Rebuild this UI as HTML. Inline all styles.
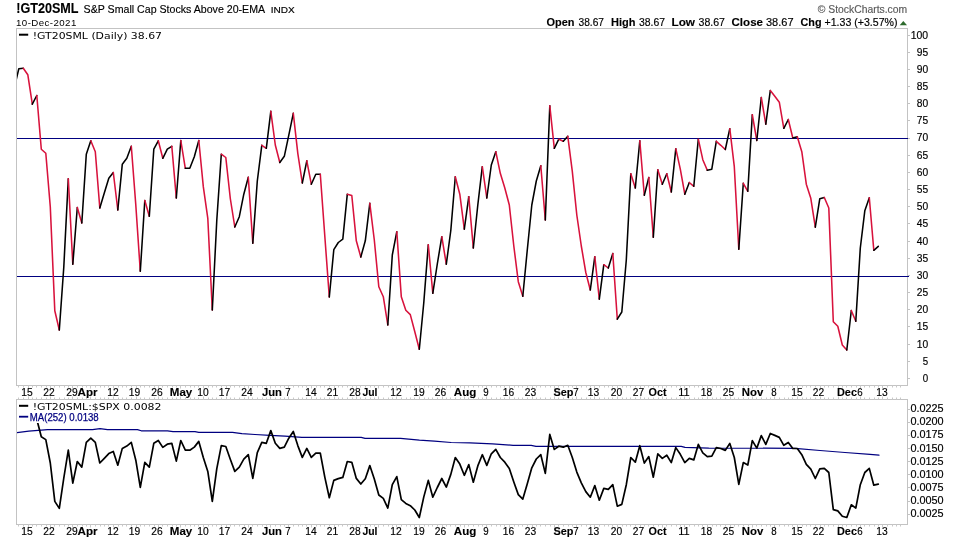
<!DOCTYPE html>
<html lang="en"><head><meta charset="utf-8"><title>!GT20SML - StockCharts</title>
<style>html,body{margin:0;padding:0;background:#fff;}svg{display:block;}text{font-family:"Liberation Sans",sans-serif;fill:#000;stroke:#000;stroke-width:.16px;}.v{font-family:"DejaVu Sans","Liberation Sans",sans-serif;stroke-width:0;}.b{font-weight:bold;stroke-width:.12px;}</style>
</head><body>
<svg width="960" height="540" viewBox="0 0 960 540">
<rect x="0" y="0" width="960" height="540" fill="#ffffff"/>
<clipPath id="c1"><rect x="17" y="29" width="891" height="356"/></clipPath>
<clipPath id="c2"><rect x="17" y="400" width="891" height="124"/></clipPath>
<rect x="16.5" y="28.5" width="891" height="357" fill="#fff" stroke="#c3c3c3" stroke-width="1"/>
<line x1="17" x2="909" y1="138.5" y2="138.5" stroke="#000080" stroke-width="1.2"/>
<line x1="17" x2="909" y1="276.5" y2="276.5" stroke="#000080" stroke-width="1.2"/>
<g clip-path="url(#c1)">
<polyline fill="none" stroke="#000000" stroke-width="1.55" stroke-linejoin="round" stroke-linecap="round" points="14.3,88.0 18.8,68.7 23.3,68.3"/>
<polyline fill="none" stroke="#d8123c" stroke-width="1.55" stroke-linejoin="round" stroke-linecap="round" points="23.3,68.3 27.8,74.7 32.3,104.2"/>
<polyline fill="none" stroke="#000000" stroke-width="1.55" stroke-linejoin="round" stroke-linecap="round" points="32.3,104.2 36.8,95.5"/>
<polyline fill="none" stroke="#d8123c" stroke-width="1.55" stroke-linejoin="round" stroke-linecap="round" points="36.8,95.5 41.3,149.2 45.8,153.3 50.3,207.0 54.8,310.8 59.3,330.0"/>
<polyline fill="none" stroke="#000000" stroke-width="1.55" stroke-linejoin="round" stroke-linecap="round" points="59.3,330.0 63.8,267.0 68.3,178.7"/>
<polyline fill="none" stroke="#d8123c" stroke-width="1.55" stroke-linejoin="round" stroke-linecap="round" points="68.3,178.7 72.8,264.2"/>
<polyline fill="none" stroke="#000000" stroke-width="1.55" stroke-linejoin="round" stroke-linecap="round" points="72.8,264.2 77.3,207.5"/>
<polyline fill="none" stroke="#d8123c" stroke-width="1.55" stroke-linejoin="round" stroke-linecap="round" points="77.3,207.5 81.8,223.0"/>
<polyline fill="none" stroke="#000000" stroke-width="1.55" stroke-linejoin="round" stroke-linecap="round" points="81.8,223.0 86.3,154.2 90.8,140.8"/>
<polyline fill="none" stroke="#d8123c" stroke-width="1.55" stroke-linejoin="round" stroke-linecap="round" points="90.8,140.8 95.3,151.7 99.8,208.0"/>
<polyline fill="none" stroke="#000000" stroke-width="1.55" stroke-linejoin="round" stroke-linecap="round" points="99.8,208.0 104.3,193.0 108.8,178.3 113.3,172.5"/>
<polyline fill="none" stroke="#d8123c" stroke-width="1.55" stroke-linejoin="round" stroke-linecap="round" points="113.3,172.5 117.8,210.0"/>
<polyline fill="none" stroke="#000000" stroke-width="1.55" stroke-linejoin="round" stroke-linecap="round" points="117.8,210.0 122.3,164.2 126.8,158.3 131.3,146.3"/>
<polyline fill="none" stroke="#d8123c" stroke-width="1.55" stroke-linejoin="round" stroke-linecap="round" points="131.3,146.3 135.8,205.0 140.3,271.3"/>
<polyline fill="none" stroke="#000000" stroke-width="1.55" stroke-linejoin="round" stroke-linecap="round" points="140.3,271.3 144.8,200.5"/>
<polyline fill="none" stroke="#d8123c" stroke-width="1.55" stroke-linejoin="round" stroke-linecap="round" points="144.8,200.5 149.3,216.2"/>
<polyline fill="none" stroke="#000000" stroke-width="1.55" stroke-linejoin="round" stroke-linecap="round" points="149.3,216.2 153.8,149.2 158.3,140.8"/>
<polyline fill="none" stroke="#d8123c" stroke-width="1.55" stroke-linejoin="round" stroke-linecap="round" points="158.3,140.8 162.8,158.3"/>
<polyline fill="none" stroke="#000000" stroke-width="1.55" stroke-linejoin="round" stroke-linecap="round" points="162.8,158.3 167.3,149.2 171.8,146.3"/>
<polyline fill="none" stroke="#d8123c" stroke-width="1.55" stroke-linejoin="round" stroke-linecap="round" points="171.8,146.3 176.3,198.0"/>
<polyline fill="none" stroke="#000000" stroke-width="1.55" stroke-linejoin="round" stroke-linecap="round" points="176.3,198.0 180.8,140.5"/>
<polyline fill="none" stroke="#d8123c" stroke-width="1.55" stroke-linejoin="round" stroke-linecap="round" points="180.8,140.5 185.3,168.3"/>
<polyline fill="none" stroke="#000000" stroke-width="1.55" stroke-linejoin="round" stroke-linecap="round" points="185.3,168.3 189.8,168.3 194.3,156.7 198.8,140.5"/>
<polyline fill="none" stroke="#d8123c" stroke-width="1.55" stroke-linejoin="round" stroke-linecap="round" points="198.8,140.5 203.3,186.7 207.8,218.3 212.3,310.0"/>
<polyline fill="none" stroke="#000000" stroke-width="1.55" stroke-linejoin="round" stroke-linecap="round" points="212.3,310.0 216.8,220.0 221.3,154.2"/>
<polyline fill="none" stroke="#d8123c" stroke-width="1.55" stroke-linejoin="round" stroke-linecap="round" points="221.3,154.2 225.8,157.5 230.3,198.5 234.8,227.0"/>
<polyline fill="none" stroke="#000000" stroke-width="1.55" stroke-linejoin="round" stroke-linecap="round" points="234.8,227.0 239.3,216.7 243.8,194.2 248.3,177.2"/>
<polyline fill="none" stroke="#d8123c" stroke-width="1.55" stroke-linejoin="round" stroke-linecap="round" points="248.3,177.2 252.8,243.3"/>
<polyline fill="none" stroke="#000000" stroke-width="1.55" stroke-linejoin="round" stroke-linecap="round" points="252.8,243.3 257.3,181.0 261.8,145.3"/>
<polyline fill="none" stroke="#d8123c" stroke-width="1.55" stroke-linejoin="round" stroke-linecap="round" points="261.8,145.3 266.3,148.3"/>
<polyline fill="none" stroke="#000000" stroke-width="1.55" stroke-linejoin="round" stroke-linecap="round" points="266.3,148.3 270.8,111.3"/>
<polyline fill="none" stroke="#d8123c" stroke-width="1.55" stroke-linejoin="round" stroke-linecap="round" points="270.8,111.3 275.3,145.0 279.8,162.5"/>
<polyline fill="none" stroke="#000000" stroke-width="1.55" stroke-linejoin="round" stroke-linecap="round" points="279.8,162.5 284.3,156.3 288.8,135.2 293.3,113.3"/>
<polyline fill="none" stroke="#d8123c" stroke-width="1.55" stroke-linejoin="round" stroke-linecap="round" points="293.3,113.3 297.8,153.3 302.3,183.0"/>
<polyline fill="none" stroke="#000000" stroke-width="1.55" stroke-linejoin="round" stroke-linecap="round" points="302.3,183.0 306.8,160.8"/>
<polyline fill="none" stroke="#d8123c" stroke-width="1.55" stroke-linejoin="round" stroke-linecap="round" points="306.8,160.8 311.3,184.2"/>
<polyline fill="none" stroke="#000000" stroke-width="1.55" stroke-linejoin="round" stroke-linecap="round" points="311.3,184.2 315.8,174.2 320.3,174.2"/>
<polyline fill="none" stroke="#d8123c" stroke-width="1.55" stroke-linejoin="round" stroke-linecap="round" points="320.3,174.2 324.8,236.0 329.3,297.0"/>
<polyline fill="none" stroke="#000000" stroke-width="1.55" stroke-linejoin="round" stroke-linecap="round" points="329.3,297.0 333.8,249.7 338.3,242.5 342.8,239.2 347.3,194.2"/>
<polyline fill="none" stroke="#d8123c" stroke-width="1.55" stroke-linejoin="round" stroke-linecap="round" points="347.3,194.2 351.8,195.5 356.3,240.8 360.8,257.0"/>
<polyline fill="none" stroke="#000000" stroke-width="1.55" stroke-linejoin="round" stroke-linecap="round" points="360.8,257.0 365.3,240.8 369.8,203.3"/>
<polyline fill="none" stroke="#d8123c" stroke-width="1.55" stroke-linejoin="round" stroke-linecap="round" points="369.8,203.3 374.3,240.0 378.8,286.7 383.3,296.7 387.8,325.0"/>
<polyline fill="none" stroke="#000000" stroke-width="1.55" stroke-linejoin="round" stroke-linecap="round" points="387.8,325.0 392.3,255.0 396.8,231.7"/>
<polyline fill="none" stroke="#d8123c" stroke-width="1.55" stroke-linejoin="round" stroke-linecap="round" points="396.8,231.7 401.3,296.7 405.8,310.2 410.3,314.6 414.8,331.7 419.3,349.2"/>
<polyline fill="none" stroke="#000000" stroke-width="1.55" stroke-linejoin="round" stroke-linecap="round" points="419.3,349.2 423.8,302.5 428.3,244.7"/>
<polyline fill="none" stroke="#d8123c" stroke-width="1.55" stroke-linejoin="round" stroke-linecap="round" points="428.3,244.7 432.8,293.3"/>
<polyline fill="none" stroke="#000000" stroke-width="1.55" stroke-linejoin="round" stroke-linecap="round" points="432.8,293.3 437.3,264.0 441.8,236.7"/>
<polyline fill="none" stroke="#d8123c" stroke-width="1.55" stroke-linejoin="round" stroke-linecap="round" points="441.8,236.7 446.3,264.2"/>
<polyline fill="none" stroke="#000000" stroke-width="1.55" stroke-linejoin="round" stroke-linecap="round" points="446.3,264.2 450.8,230.5 455.3,176.7"/>
<polyline fill="none" stroke="#d8123c" stroke-width="1.55" stroke-linejoin="round" stroke-linecap="round" points="455.3,176.7 459.8,194.2 464.3,229.2"/>
<polyline fill="none" stroke="#000000" stroke-width="1.55" stroke-linejoin="round" stroke-linecap="round" points="464.3,229.2 468.8,196.7"/>
<polyline fill="none" stroke="#d8123c" stroke-width="1.55" stroke-linejoin="round" stroke-linecap="round" points="468.8,196.7 473.3,248.0"/>
<polyline fill="none" stroke="#000000" stroke-width="1.55" stroke-linejoin="round" stroke-linecap="round" points="473.3,248.0 477.8,205.0 482.3,166.7"/>
<polyline fill="none" stroke="#d8123c" stroke-width="1.55" stroke-linejoin="round" stroke-linecap="round" points="482.3,166.7 486.8,198.0"/>
<polyline fill="none" stroke="#000000" stroke-width="1.55" stroke-linejoin="round" stroke-linecap="round" points="486.8,198.0 491.3,165.0 495.8,151.7"/>
<polyline fill="none" stroke="#d8123c" stroke-width="1.55" stroke-linejoin="round" stroke-linecap="round" points="495.8,151.7 500.3,173.3 504.8,188.0 509.3,205.0 513.8,246.0 518.3,281.7 522.8,296.3"/>
<polyline fill="none" stroke="#000000" stroke-width="1.55" stroke-linejoin="round" stroke-linecap="round" points="522.8,296.3 527.3,249.7 531.8,205.0 536.3,181.0 540.8,165.8"/>
<polyline fill="none" stroke="#d8123c" stroke-width="1.55" stroke-linejoin="round" stroke-linecap="round" points="540.8,165.8 545.3,220.0"/>
<polyline fill="none" stroke="#000000" stroke-width="1.55" stroke-linejoin="round" stroke-linecap="round" points="545.3,220.0 549.8,105.8"/>
<polyline fill="none" stroke="#d8123c" stroke-width="1.55" stroke-linejoin="round" stroke-linecap="round" points="549.8,105.8 554.3,148.3"/>
<polyline fill="none" stroke="#000000" stroke-width="1.55" stroke-linejoin="round" stroke-linecap="round" points="554.3,148.3 558.8,139.2"/>
<polyline fill="none" stroke="#d8123c" stroke-width="1.55" stroke-linejoin="round" stroke-linecap="round" points="558.8,139.2 563.3,141.3"/>
<polyline fill="none" stroke="#000000" stroke-width="1.55" stroke-linejoin="round" stroke-linecap="round" points="563.3,141.3 567.8,136.3"/>
<polyline fill="none" stroke="#d8123c" stroke-width="1.55" stroke-linejoin="round" stroke-linecap="round" points="567.8,136.3 572.3,171.3 576.8,215.0 581.3,246.0 585.8,272.5 590.3,290.0"/>
<polyline fill="none" stroke="#000000" stroke-width="1.55" stroke-linejoin="round" stroke-linecap="round" points="590.3,290.0 594.8,256.7"/>
<polyline fill="none" stroke="#d8123c" stroke-width="1.55" stroke-linejoin="round" stroke-linecap="round" points="594.8,256.7 599.3,299.2"/>
<polyline fill="none" stroke="#000000" stroke-width="1.55" stroke-linejoin="round" stroke-linecap="round" points="599.3,299.2 603.8,264.7"/>
<polyline fill="none" stroke="#d8123c" stroke-width="1.55" stroke-linejoin="round" stroke-linecap="round" points="603.8,264.7 608.3,268.0"/>
<polyline fill="none" stroke="#000000" stroke-width="1.55" stroke-linejoin="round" stroke-linecap="round" points="608.3,268.0 612.8,253.5"/>
<polyline fill="none" stroke="#d8123c" stroke-width="1.55" stroke-linejoin="round" stroke-linecap="round" points="612.8,253.5 617.3,319.2"/>
<polyline fill="none" stroke="#000000" stroke-width="1.55" stroke-linejoin="round" stroke-linecap="round" points="617.3,319.2 621.8,312.0 626.3,260.0 630.8,173.7"/>
<polyline fill="none" stroke="#d8123c" stroke-width="1.55" stroke-linejoin="round" stroke-linecap="round" points="630.8,173.7 635.3,188.0"/>
<polyline fill="none" stroke="#000000" stroke-width="1.55" stroke-linejoin="round" stroke-linecap="round" points="635.3,188.0 639.8,140.8"/>
<polyline fill="none" stroke="#d8123c" stroke-width="1.55" stroke-linejoin="round" stroke-linecap="round" points="639.8,140.8 644.3,195.3"/>
<polyline fill="none" stroke="#000000" stroke-width="1.55" stroke-linejoin="round" stroke-linecap="round" points="644.3,195.3 648.8,177.5"/>
<polyline fill="none" stroke="#d8123c" stroke-width="1.55" stroke-linejoin="round" stroke-linecap="round" points="648.8,177.5 653.3,237.2"/>
<polyline fill="none" stroke="#000000" stroke-width="1.55" stroke-linejoin="round" stroke-linecap="round" points="653.3,237.2 657.8,169.7"/>
<polyline fill="none" stroke="#d8123c" stroke-width="1.55" stroke-linejoin="round" stroke-linecap="round" points="657.8,169.7 662.3,184.2"/>
<polyline fill="none" stroke="#000000" stroke-width="1.55" stroke-linejoin="round" stroke-linecap="round" points="662.3,184.2 666.8,173.7"/>
<polyline fill="none" stroke="#d8123c" stroke-width="1.55" stroke-linejoin="round" stroke-linecap="round" points="666.8,173.7 671.3,192.0"/>
<polyline fill="none" stroke="#000000" stroke-width="1.55" stroke-linejoin="round" stroke-linecap="round" points="671.3,192.0 675.8,148.7"/>
<polyline fill="none" stroke="#d8123c" stroke-width="1.55" stroke-linejoin="round" stroke-linecap="round" points="675.8,148.7 680.3,169.2 684.8,194.2"/>
<polyline fill="none" stroke="#000000" stroke-width="1.55" stroke-linejoin="round" stroke-linecap="round" points="684.8,194.2 689.3,182.5"/>
<polyline fill="none" stroke="#d8123c" stroke-width="1.55" stroke-linejoin="round" stroke-linecap="round" points="689.3,182.5 693.8,186.3"/>
<polyline fill="none" stroke="#000000" stroke-width="1.55" stroke-linejoin="round" stroke-linecap="round" points="693.8,186.3 698.3,139.2"/>
<polyline fill="none" stroke="#d8123c" stroke-width="1.55" stroke-linejoin="round" stroke-linecap="round" points="698.3,139.2 702.8,159.7 707.3,170.3"/>
<polyline fill="none" stroke="#000000" stroke-width="1.55" stroke-linejoin="round" stroke-linecap="round" points="707.3,170.3 711.8,169.2 716.3,141.3"/>
<polyline fill="none" stroke="#d8123c" stroke-width="1.55" stroke-linejoin="round" stroke-linecap="round" points="716.3,141.3 720.8,145.3 725.3,149.5"/>
<polyline fill="none" stroke="#000000" stroke-width="1.55" stroke-linejoin="round" stroke-linecap="round" points="725.3,149.5 729.8,128.7"/>
<polyline fill="none" stroke="#d8123c" stroke-width="1.55" stroke-linejoin="round" stroke-linecap="round" points="729.8,128.7 734.3,166.7 738.8,249.2"/>
<polyline fill="none" stroke="#000000" stroke-width="1.55" stroke-linejoin="round" stroke-linecap="round" points="738.8,249.2 743.3,183.3"/>
<polyline fill="none" stroke="#d8123c" stroke-width="1.55" stroke-linejoin="round" stroke-linecap="round" points="743.3,183.3 747.8,191.3"/>
<polyline fill="none" stroke="#000000" stroke-width="1.55" stroke-linejoin="round" stroke-linecap="round" points="747.8,191.3 752.3,114.7"/>
<polyline fill="none" stroke="#d8123c" stroke-width="1.55" stroke-linejoin="round" stroke-linecap="round" points="752.3,114.7 756.8,140.5"/>
<polyline fill="none" stroke="#000000" stroke-width="1.55" stroke-linejoin="round" stroke-linecap="round" points="756.8,140.5 761.3,97.5"/>
<polyline fill="none" stroke="#d8123c" stroke-width="1.55" stroke-linejoin="round" stroke-linecap="round" points="761.3,97.5 765.8,124.2"/>
<polyline fill="none" stroke="#000000" stroke-width="1.55" stroke-linejoin="round" stroke-linecap="round" points="765.8,124.2 770.3,90.5"/>
<polyline fill="none" stroke="#d8123c" stroke-width="1.55" stroke-linejoin="round" stroke-linecap="round" points="770.3,90.5 774.8,96.3 779.3,102.2 783.8,128.3"/>
<polyline fill="none" stroke="#000000" stroke-width="1.55" stroke-linejoin="round" stroke-linecap="round" points="783.8,128.3 788.3,119.5"/>
<polyline fill="none" stroke="#d8123c" stroke-width="1.55" stroke-linejoin="round" stroke-linecap="round" points="788.3,119.5 792.8,138.0"/>
<polyline fill="none" stroke="#000000" stroke-width="1.55" stroke-linejoin="round" stroke-linecap="round" points="792.8,138.0 797.3,136.7"/>
<polyline fill="none" stroke="#d8123c" stroke-width="1.55" stroke-linejoin="round" stroke-linecap="round" points="797.3,136.7 801.8,151.7 806.3,184.2 810.8,198.3 815.3,227.2"/>
<polyline fill="none" stroke="#000000" stroke-width="1.55" stroke-linejoin="round" stroke-linecap="round" points="815.3,227.2 819.8,198.7 824.3,197.5"/>
<polyline fill="none" stroke="#d8123c" stroke-width="1.55" stroke-linejoin="round" stroke-linecap="round" points="824.3,197.5 828.8,208.0 833.3,321.7 837.8,326.3 842.3,345.0 846.8,350.0"/>
<polyline fill="none" stroke="#000000" stroke-width="1.55" stroke-linejoin="round" stroke-linecap="round" points="846.8,350.0 851.3,310.5"/>
<polyline fill="none" stroke="#d8123c" stroke-width="1.55" stroke-linejoin="round" stroke-linecap="round" points="851.3,310.5 855.8,321.3"/>
<polyline fill="none" stroke="#000000" stroke-width="1.55" stroke-linejoin="round" stroke-linecap="round" points="855.8,321.3 860.3,248.0 864.8,210.8 869.3,197.8"/>
<polyline fill="none" stroke="#d8123c" stroke-width="1.55" stroke-linejoin="round" stroke-linecap="round" points="869.3,197.8 873.8,250.3"/>
<polyline fill="none" stroke="#000000" stroke-width="1.55" stroke-linejoin="round" stroke-linecap="round" points="873.8,250.3 878.3,246.3"/>
</g>
<line x1="908" x2="910" y1="378.5" y2="378.5" stroke="#c3c3c3" stroke-width="1"/>
<text x="922.7" y="381.8" font-size="10" textLength="5.4" lengthAdjust="spacingAndGlyphs">0</text>
<line x1="908" x2="910" y1="361.5" y2="361.5" stroke="#c3c3c3" stroke-width="1"/>
<text x="922.7" y="364.6" font-size="10" textLength="5.4" lengthAdjust="spacingAndGlyphs">5</text>
<line x1="908" x2="910" y1="344.5" y2="344.5" stroke="#c3c3c3" stroke-width="1"/>
<text x="916.7" y="347.5" font-size="10" textLength="11.4" lengthAdjust="spacingAndGlyphs">10</text>
<line x1="908" x2="910" y1="326.5" y2="326.5" stroke="#c3c3c3" stroke-width="1"/>
<text x="916.7" y="330.3" font-size="10" textLength="11.4" lengthAdjust="spacingAndGlyphs">15</text>
<line x1="908" x2="910" y1="309.5" y2="309.5" stroke="#c3c3c3" stroke-width="1"/>
<text x="916.7" y="313.1" font-size="10" textLength="11.4" lengthAdjust="spacingAndGlyphs">20</text>
<line x1="908" x2="910" y1="292.5" y2="292.5" stroke="#c3c3c3" stroke-width="1"/>
<text x="916.7" y="296.0" font-size="10" textLength="11.4" lengthAdjust="spacingAndGlyphs">25</text>
<line x1="908" x2="910" y1="275.5" y2="275.5" stroke="#c3c3c3" stroke-width="1"/>
<text x="916.7" y="278.8" font-size="10" textLength="11.4" lengthAdjust="spacingAndGlyphs">30</text>
<line x1="908" x2="910" y1="258.5" y2="258.5" stroke="#c3c3c3" stroke-width="1"/>
<text x="916.7" y="261.6" font-size="10" textLength="11.4" lengthAdjust="spacingAndGlyphs">35</text>
<line x1="908" x2="910" y1="241.5" y2="241.5" stroke="#c3c3c3" stroke-width="1"/>
<text x="916.7" y="244.5" font-size="10" textLength="11.4" lengthAdjust="spacingAndGlyphs">40</text>
<line x1="908" x2="910" y1="223.5" y2="223.5" stroke="#c3c3c3" stroke-width="1"/>
<text x="916.7" y="227.3" font-size="10" textLength="11.4" lengthAdjust="spacingAndGlyphs">45</text>
<line x1="908" x2="910" y1="206.5" y2="206.5" stroke="#c3c3c3" stroke-width="1"/>
<text x="916.7" y="210.2" font-size="10" textLength="11.4" lengthAdjust="spacingAndGlyphs">50</text>
<line x1="908" x2="910" y1="189.5" y2="189.5" stroke="#c3c3c3" stroke-width="1"/>
<text x="916.7" y="193.0" font-size="10" textLength="11.4" lengthAdjust="spacingAndGlyphs">55</text>
<line x1="908" x2="910" y1="172.5" y2="172.5" stroke="#c3c3c3" stroke-width="1"/>
<text x="916.7" y="175.8" font-size="10" textLength="11.4" lengthAdjust="spacingAndGlyphs">60</text>
<line x1="908" x2="910" y1="155.5" y2="155.5" stroke="#c3c3c3" stroke-width="1"/>
<text x="916.7" y="158.7" font-size="10" textLength="11.4" lengthAdjust="spacingAndGlyphs">65</text>
<line x1="908" x2="910" y1="138.5" y2="138.5" stroke="#c3c3c3" stroke-width="1"/>
<text x="916.7" y="140.8" font-size="10" textLength="11.4" lengthAdjust="spacingAndGlyphs">70</text>
<line x1="908" x2="910" y1="120.5" y2="120.5" stroke="#c3c3c3" stroke-width="1"/>
<text x="916.7" y="124.3" font-size="10" textLength="11.4" lengthAdjust="spacingAndGlyphs">75</text>
<line x1="908" x2="910" y1="103.5" y2="103.5" stroke="#c3c3c3" stroke-width="1"/>
<text x="916.7" y="107.2" font-size="10" textLength="11.4" lengthAdjust="spacingAndGlyphs">80</text>
<line x1="908" x2="910" y1="86.5" y2="86.5" stroke="#c3c3c3" stroke-width="1"/>
<text x="916.7" y="90.0" font-size="10" textLength="11.4" lengthAdjust="spacingAndGlyphs">85</text>
<line x1="908" x2="910" y1="69.5" y2="69.5" stroke="#c3c3c3" stroke-width="1"/>
<text x="916.7" y="72.8" font-size="10" textLength="11.4" lengthAdjust="spacingAndGlyphs">90</text>
<line x1="908" x2="910" y1="52.5" y2="52.5" stroke="#c3c3c3" stroke-width="1"/>
<text x="916.7" y="55.7" font-size="10" textLength="11.4" lengthAdjust="spacingAndGlyphs">95</text>
<line x1="908" x2="910" y1="35.5" y2="35.5" stroke="#c3c3c3" stroke-width="1"/>
<text x="910.7" y="38.5" font-size="10" textLength="17.4" lengthAdjust="spacingAndGlyphs">100</text>
<rect x="16.5" y="399.5" width="891" height="125" fill="#fff" stroke="#c3c3c3" stroke-width="1"/>
<g clip-path="url(#c2)">
<polyline fill="none" stroke="#000080" stroke-width="1.2" stroke-linejoin="round" stroke-linecap="round" points="17.0,432.6 28.8,431.1 47.5,429.6 92.5,429.6 100.0,428.6 107.5,429.6 137.5,429.6 141.2,430.8 167.5,430.8 173.0,431.6 195.0,431.6 198.8,432.4 232.5,432.4 241.9,433.6 255.0,434.5 270.0,435.4 285.0,436.2 301.9,437.3 361.2,437.4 365.0,438.4 400.6,438.4 419.4,440.2 434.4,441.2 451.2,442.5 470.0,442.9 492.5,443.8 513.1,445.3 531.2,445.3 536.0,446.4 681.2,446.4 685.0,447.4 708.8,448.1 795.0,448.3 820.0,450.5 845.0,452.5 870.0,454.3 879.0,455.2"/>
<polyline fill="none" stroke="#000000" stroke-width="1.7" stroke-linejoin="round" stroke-linecap="round" points="37.2,421.5 37.8,423.2 41.3,436.8 45.8,439.6 50.3,463.0 54.8,501.4 59.3,508.4 63.8,478.0 68.3,450.2 72.8,483.2 77.3,461.5 81.8,467.1 86.3,442.4 90.8,438.2 95.3,442.4 99.8,463.0 104.3,458.3 108.8,453.6 113.3,451.4 117.8,465.2 122.3,448.4 126.8,446.1 131.3,442.4 135.8,460.2 140.3,487.4 144.8,462.4 149.3,467.1 153.8,443.3 158.3,440.5 162.8,447.4 167.3,444.2 171.8,443.3 176.3,461.1 180.8,440.5 185.3,450.2 189.8,450.2 194.3,447.1 198.8,441.4 203.3,457.4 207.8,471.4 212.3,501.4 216.8,468.6 221.3,445.6 225.8,446.5 230.3,459.2 234.8,471.4 239.3,467.1 243.8,459.2 248.3,454.6 252.8,478.4 257.3,452.7 261.8,442.4 266.3,443.3 270.8,430.6 275.3,443.3 279.8,448.4 284.3,447.1 288.8,438.2 293.3,431.5 297.8,445.6 302.3,457.4 306.8,448.4 311.3,457.4 315.8,453.2 320.3,453.2 324.8,477.1 329.3,497.7 333.8,480.4 338.3,478.6 342.8,477.4 347.3,461.5 351.8,462.3 356.3,478.4 360.8,484.0 365.3,478.7 369.8,465.6 374.3,479.1 378.8,495.0 383.3,498.4 387.8,508.1 392.3,484.7 396.8,476.6 401.3,499.7 405.8,503.4 410.3,505.7 414.8,510.0 419.3,517.5 423.8,496.9 428.3,480.4 432.8,497.2 437.3,487.5 441.8,478.5 446.3,487.1 450.8,474.4 455.3,457.5 459.8,464.1 464.3,475.3 468.8,464.6 473.3,482.2 477.8,465.9 482.3,454.7 486.8,465.4 491.3,453.8 495.8,449.4 500.3,457.5 504.8,462.2 509.3,468.4 513.8,481.9 518.3,494.6 522.8,499.1 527.3,483.8 531.8,467.8 536.3,459.0 540.8,454.7 545.3,473.4 549.8,434.4 554.3,449.4 558.8,446.2 563.3,447.2 567.8,445.3 572.3,457.5 576.8,472.1 581.3,482.8 585.8,491.6 590.3,497.2 594.8,485.6 599.3,500.2 603.8,488.4 608.3,489.4 612.8,484.7 617.3,506.2 621.8,504.4 626.3,484.7 630.8,457.5 635.3,462.2 639.8,445.7 644.3,463.1 648.8,456.6 653.3,477.2 657.8,453.8 662.3,458.4 666.8,455.2 671.3,462.6 675.8,447.6 680.3,454.3 684.8,462.6 689.3,458.4 693.8,459.9 698.3,444.4 702.8,452.8 707.3,456.6 711.8,456.2 716.3,447.6 720.8,448.5 725.3,450.4 729.8,443.4 734.3,457.5 738.8,484.3 743.3,462.6 747.8,465.0 752.3,440.6 756.8,448.1 761.3,435.6 765.8,444.4 770.3,433.5 774.8,435.4 779.3,437.4 783.8,445.3 788.3,442.5 792.8,448.5 797.3,448.5 801.8,454.7 806.3,464.4 810.8,469.1 815.3,478.5 819.8,468.8 824.3,468.4 828.8,472.5 833.3,509.6 837.8,510.9 842.3,516.2 846.8,517.5 851.3,504.8 855.8,508.1 860.3,484.7 864.8,472.5 869.3,468.4 873.8,485.2 878.3,484.2"/>
</g>
<line x1="908" x2="910" y1="514.5" y2="514.5" stroke="#c3c3c3" stroke-width="1"/>
<text x="910.4" y="517.1" font-size="10" textLength="33.2" lengthAdjust="spacingAndGlyphs">0.0025</text>
<line x1="908" x2="910" y1="501.5" y2="501.5" stroke="#c3c3c3" stroke-width="1"/>
<text x="910.4" y="504.0" font-size="10" textLength="33.2" lengthAdjust="spacingAndGlyphs">0.0050</text>
<line x1="908" x2="910" y1="487.5" y2="487.5" stroke="#c3c3c3" stroke-width="1"/>
<text x="910.4" y="490.9" font-size="10" textLength="33.2" lengthAdjust="spacingAndGlyphs">0.0075</text>
<line x1="908" x2="910" y1="474.5" y2="474.5" stroke="#c3c3c3" stroke-width="1"/>
<text x="910.4" y="477.7" font-size="10" textLength="33.2" lengthAdjust="spacingAndGlyphs">0.0100</text>
<line x1="908" x2="910" y1="461.5" y2="461.5" stroke="#c3c3c3" stroke-width="1"/>
<text x="910.4" y="464.6" font-size="10" textLength="33.2" lengthAdjust="spacingAndGlyphs">0.0125</text>
<line x1="908" x2="910" y1="448.5" y2="448.5" stroke="#c3c3c3" stroke-width="1"/>
<text x="910.4" y="451.5" font-size="10" textLength="33.2" lengthAdjust="spacingAndGlyphs">0.0150</text>
<line x1="908" x2="910" y1="435.5" y2="435.5" stroke="#c3c3c3" stroke-width="1"/>
<text x="910.4" y="438.4" font-size="10" textLength="33.2" lengthAdjust="spacingAndGlyphs">0.0175</text>
<line x1="908" x2="910" y1="422.5" y2="422.5" stroke="#c3c3c3" stroke-width="1"/>
<text x="910.4" y="425.2" font-size="10" textLength="33.2" lengthAdjust="spacingAndGlyphs">0.0200</text>
<line x1="908" x2="910" y1="409.5" y2="409.5" stroke="#c3c3c3" stroke-width="1"/>
<text x="910.4" y="412.1" font-size="10" textLength="33.2" lengthAdjust="spacingAndGlyphs">0.0225</text>
<path d="M18.5 385.5v2 M18.5 399.5v-2 M18.5 524.5v2 M23.5 385.5v2 M23.5 399.5v-2 M23.5 524.5v2 M28.5 385.5v3 M28.5 399.5v-3 M28.5 524.5v3 M32.5 385.5v2 M32.5 399.5v-2 M32.5 524.5v2 M36.5 385.5v2 M36.5 399.5v-2 M36.5 524.5v2 M41.5 385.5v2 M41.5 399.5v-2 M41.5 524.5v2 M46.5 385.5v2 M46.5 399.5v-2 M46.5 524.5v2 M50.5 385.5v3 M50.5 399.5v-3 M50.5 524.5v3 M54.5 385.5v2 M54.5 399.5v-2 M54.5 524.5v2 M59.5 385.5v2 M59.5 399.5v-2 M59.5 524.5v2 M64.5 385.5v2 M64.5 399.5v-2 M64.5 524.5v2 M68.5 385.5v2 M68.5 399.5v-2 M68.5 524.5v2 M72.5 385.5v3 M72.5 399.5v-3 M72.5 524.5v3 M77.5 385.5v2 M77.5 399.5v-2 M77.5 524.5v2 M82.5 385.5v2 M82.5 399.5v-2 M82.5 524.5v2 M86.5 385.5v2 M86.5 399.5v-2 M86.5 524.5v2 M90.5 385.5v3 M90.5 399.5v-3 M90.5 524.5v3 M95.5 385.5v2 M95.5 399.5v-2 M95.5 524.5v2 M100.5 385.5v2 M100.5 399.5v-2 M100.5 524.5v2 M104.5 385.5v2 M104.5 399.5v-2 M104.5 524.5v2 M108.5 385.5v2 M108.5 399.5v-2 M108.5 524.5v2 M113.5 385.5v3 M113.5 399.5v-3 M113.5 524.5v3 M118.5 385.5v2 M118.5 399.5v-2 M118.5 524.5v2 M122.5 385.5v2 M122.5 399.5v-2 M122.5 524.5v2 M126.5 385.5v2 M126.5 399.5v-2 M126.5 524.5v2 M131.5 385.5v2 M131.5 399.5v-2 M131.5 524.5v2 M136.5 385.5v3 M136.5 399.5v-3 M136.5 524.5v3 M140.5 385.5v2 M140.5 399.5v-2 M140.5 524.5v2 M144.5 385.5v2 M144.5 399.5v-2 M144.5 524.5v2 M149.5 385.5v2 M149.5 399.5v-2 M149.5 524.5v2 M154.5 385.5v2 M154.5 399.5v-2 M154.5 524.5v2 M158.5 385.5v3 M158.5 399.5v-3 M158.5 524.5v3 M162.5 385.5v2 M162.5 399.5v-2 M162.5 524.5v2 M167.5 385.5v2 M167.5 399.5v-2 M167.5 524.5v2 M172.5 385.5v2 M172.5 399.5v-2 M172.5 524.5v2 M176.5 385.5v2 M176.5 399.5v-2 M176.5 524.5v2 M180.5 385.5v3 M180.5 399.5v-3 M180.5 524.5v3 M185.5 385.5v2 M185.5 399.5v-2 M185.5 524.5v2 M190.5 385.5v2 M190.5 399.5v-2 M190.5 524.5v2 M194.5 385.5v2 M194.5 399.5v-2 M194.5 524.5v2 M198.5 385.5v2 M198.5 399.5v-2 M198.5 524.5v2 M203.5 385.5v3 M203.5 399.5v-3 M203.5 524.5v3 M208.5 385.5v2 M208.5 399.5v-2 M208.5 524.5v2 M212.5 385.5v2 M212.5 399.5v-2 M212.5 524.5v2 M216.5 385.5v2 M216.5 399.5v-2 M216.5 524.5v2 M221.5 385.5v2 M221.5 399.5v-2 M221.5 524.5v2 M226.5 385.5v3 M226.5 399.5v-3 M226.5 524.5v3 M230.5 385.5v2 M230.5 399.5v-2 M230.5 524.5v2 M234.5 385.5v2 M234.5 399.5v-2 M234.5 524.5v2 M239.5 385.5v2 M239.5 399.5v-2 M239.5 524.5v2 M244.5 385.5v2 M244.5 399.5v-2 M244.5 524.5v2 M248.5 385.5v3 M248.5 399.5v-3 M248.5 524.5v3 M252.5 385.5v2 M252.5 399.5v-2 M252.5 524.5v2 M257.5 385.5v2 M257.5 399.5v-2 M257.5 524.5v2 M262.5 385.5v2 M262.5 399.5v-2 M262.5 524.5v2 M266.5 385.5v2 M266.5 399.5v-2 M266.5 524.5v2 M270.5 385.5v3 M270.5 399.5v-3 M270.5 524.5v3 M275.5 385.5v2 M275.5 399.5v-2 M275.5 524.5v2 M280.5 385.5v2 M280.5 399.5v-2 M280.5 524.5v2 M284.5 385.5v2 M284.5 399.5v-2 M284.5 524.5v2 M288.5 385.5v3 M288.5 399.5v-3 M288.5 524.5v3 M293.5 385.5v2 M293.5 399.5v-2 M293.5 524.5v2 M298.5 385.5v2 M298.5 399.5v-2 M298.5 524.5v2 M302.5 385.5v2 M302.5 399.5v-2 M302.5 524.5v2 M306.5 385.5v2 M306.5 399.5v-2 M306.5 524.5v2 M311.5 385.5v3 M311.5 399.5v-3 M311.5 524.5v3 M316.5 385.5v2 M316.5 399.5v-2 M316.5 524.5v2 M320.5 385.5v2 M320.5 399.5v-2 M320.5 524.5v2 M324.5 385.5v2 M324.5 399.5v-2 M324.5 524.5v2 M329.5 385.5v2 M329.5 399.5v-2 M329.5 524.5v2 M334.5 385.5v3 M334.5 399.5v-3 M334.5 524.5v3 M338.5 385.5v2 M338.5 399.5v-2 M338.5 524.5v2 M342.5 385.5v2 M342.5 399.5v-2 M342.5 524.5v2 M347.5 385.5v2 M347.5 399.5v-2 M347.5 524.5v2 M352.5 385.5v2 M352.5 399.5v-2 M352.5 524.5v2 M356.5 385.5v3 M356.5 399.5v-3 M356.5 524.5v3 M360.5 385.5v2 M360.5 399.5v-2 M360.5 524.5v2 M365.5 385.5v2 M365.5 399.5v-2 M365.5 524.5v2 M370.5 385.5v2 M370.5 399.5v-2 M370.5 524.5v2 M374.5 385.5v2 M374.5 399.5v-2 M374.5 524.5v2 M378.5 385.5v3 M378.5 399.5v-3 M378.5 524.5v3 M383.5 385.5v2 M383.5 399.5v-2 M383.5 524.5v2 M388.5 385.5v2 M388.5 399.5v-2 M388.5 524.5v2 M392.5 385.5v2 M392.5 399.5v-2 M392.5 524.5v2 M396.5 385.5v3 M396.5 399.5v-3 M396.5 524.5v3 M401.5 385.5v2 M401.5 399.5v-2 M401.5 524.5v2 M406.5 385.5v2 M406.5 399.5v-2 M406.5 524.5v2 M410.5 385.5v2 M410.5 399.5v-2 M410.5 524.5v2 M414.5 385.5v2 M414.5 399.5v-2 M414.5 524.5v2 M419.5 385.5v3 M419.5 399.5v-3 M419.5 524.5v3 M424.5 385.5v2 M424.5 399.5v-2 M424.5 524.5v2 M428.5 385.5v2 M428.5 399.5v-2 M428.5 524.5v2 M432.5 385.5v2 M432.5 399.5v-2 M432.5 524.5v2 M437.5 385.5v2 M437.5 399.5v-2 M437.5 524.5v2 M442.5 385.5v3 M442.5 399.5v-3 M442.5 524.5v3 M446.5 385.5v2 M446.5 399.5v-2 M446.5 524.5v2 M450.5 385.5v2 M450.5 399.5v-2 M450.5 524.5v2 M455.5 385.5v2 M455.5 399.5v-2 M455.5 524.5v2 M460.5 385.5v2 M460.5 399.5v-2 M460.5 524.5v2 M464.5 385.5v3 M464.5 399.5v-3 M464.5 524.5v3 M468.5 385.5v2 M468.5 399.5v-2 M468.5 524.5v2 M473.5 385.5v2 M473.5 399.5v-2 M473.5 524.5v2 M478.5 385.5v2 M478.5 399.5v-2 M478.5 524.5v2 M482.5 385.5v2 M482.5 399.5v-2 M482.5 524.5v2 M486.5 385.5v3 M486.5 399.5v-3 M486.5 524.5v3 M491.5 385.5v2 M491.5 399.5v-2 M491.5 524.5v2 M496.5 385.5v2 M496.5 399.5v-2 M496.5 524.5v2 M500.5 385.5v2 M500.5 399.5v-2 M500.5 524.5v2 M504.5 385.5v2 M504.5 399.5v-2 M504.5 524.5v2 M509.5 385.5v3 M509.5 399.5v-3 M509.5 524.5v3 M514.5 385.5v2 M514.5 399.5v-2 M514.5 524.5v2 M518.5 385.5v2 M518.5 399.5v-2 M518.5 524.5v2 M522.5 385.5v2 M522.5 399.5v-2 M522.5 524.5v2 M527.5 385.5v2 M527.5 399.5v-2 M527.5 524.5v2 M532.5 385.5v3 M532.5 399.5v-3 M532.5 524.5v3 M536.5 385.5v2 M536.5 399.5v-2 M536.5 524.5v2 M540.5 385.5v2 M540.5 399.5v-2 M540.5 524.5v2 M545.5 385.5v2 M545.5 399.5v-2 M545.5 524.5v2 M550.5 385.5v2 M550.5 399.5v-2 M550.5 524.5v2 M554.5 385.5v3 M554.5 399.5v-3 M554.5 524.5v3 M558.5 385.5v2 M558.5 399.5v-2 M558.5 524.5v2 M563.5 385.5v2 M563.5 399.5v-2 M563.5 524.5v2 M568.5 385.5v2 M568.5 399.5v-2 M568.5 524.5v2 M572.5 385.5v2 M572.5 399.5v-2 M572.5 524.5v2 M576.5 385.5v3 M576.5 399.5v-3 M576.5 524.5v3 M581.5 385.5v2 M581.5 399.5v-2 M581.5 524.5v2 M586.5 385.5v2 M586.5 399.5v-2 M586.5 524.5v2 M590.5 385.5v2 M590.5 399.5v-2 M590.5 524.5v2 M594.5 385.5v3 M594.5 399.5v-3 M594.5 524.5v3 M599.5 385.5v2 M599.5 399.5v-2 M599.5 524.5v2 M604.5 385.5v2 M604.5 399.5v-2 M604.5 524.5v2 M608.5 385.5v2 M608.5 399.5v-2 M608.5 524.5v2 M612.5 385.5v2 M612.5 399.5v-2 M612.5 524.5v2 M617.5 385.5v3 M617.5 399.5v-3 M617.5 524.5v3 M622.5 385.5v2 M622.5 399.5v-2 M622.5 524.5v2 M626.5 385.5v2 M626.5 399.5v-2 M626.5 524.5v2 M630.5 385.5v2 M630.5 399.5v-2 M630.5 524.5v2 M635.5 385.5v2 M635.5 399.5v-2 M635.5 524.5v2 M640.5 385.5v3 M640.5 399.5v-3 M640.5 524.5v3 M644.5 385.5v2 M644.5 399.5v-2 M644.5 524.5v2 M648.5 385.5v2 M648.5 399.5v-2 M648.5 524.5v2 M653.5 385.5v2 M653.5 399.5v-2 M653.5 524.5v2 M658.5 385.5v2 M658.5 399.5v-2 M658.5 524.5v2 M662.5 385.5v3 M662.5 399.5v-3 M662.5 524.5v3 M666.5 385.5v2 M666.5 399.5v-2 M666.5 524.5v2 M671.5 385.5v2 M671.5 399.5v-2 M671.5 524.5v2 M676.5 385.5v2 M676.5 399.5v-2 M676.5 524.5v2 M680.5 385.5v2 M680.5 399.5v-2 M680.5 524.5v2 M684.5 385.5v3 M684.5 399.5v-3 M684.5 524.5v3 M689.5 385.5v2 M689.5 399.5v-2 M689.5 524.5v2 M694.5 385.5v2 M694.5 399.5v-2 M694.5 524.5v2 M698.5 385.5v2 M698.5 399.5v-2 M698.5 524.5v2 M702.5 385.5v2 M702.5 399.5v-2 M702.5 524.5v2 M707.5 385.5v3 M707.5 399.5v-3 M707.5 524.5v3 M712.5 385.5v2 M712.5 399.5v-2 M712.5 524.5v2 M716.5 385.5v2 M716.5 399.5v-2 M716.5 524.5v2 M720.5 385.5v2 M720.5 399.5v-2 M720.5 524.5v2 M725.5 385.5v2 M725.5 399.5v-2 M725.5 524.5v2 M730.5 385.5v3 M730.5 399.5v-3 M730.5 524.5v3 M734.5 385.5v2 M734.5 399.5v-2 M734.5 524.5v2 M738.5 385.5v2 M738.5 399.5v-2 M738.5 524.5v2 M743.5 385.5v2 M743.5 399.5v-2 M743.5 524.5v2 M748.5 385.5v2 M748.5 399.5v-2 M748.5 524.5v2 M752.5 385.5v3 M752.5 399.5v-3 M752.5 524.5v3 M756.5 385.5v2 M756.5 399.5v-2 M756.5 524.5v2 M761.5 385.5v2 M761.5 399.5v-2 M761.5 524.5v2 M766.5 385.5v2 M766.5 399.5v-2 M766.5 524.5v2 M770.5 385.5v2 M770.5 399.5v-2 M770.5 524.5v2 M774.5 385.5v3 M774.5 399.5v-3 M774.5 524.5v3 M779.5 385.5v2 M779.5 399.5v-2 M779.5 524.5v2 M784.5 385.5v2 M784.5 399.5v-2 M784.5 524.5v2 M788.5 385.5v2 M788.5 399.5v-2 M788.5 524.5v2 M792.5 385.5v2 M792.5 399.5v-2 M792.5 524.5v2 M797.5 385.5v3 M797.5 399.5v-3 M797.5 524.5v3 M802.5 385.5v2 M802.5 399.5v-2 M802.5 524.5v2 M806.5 385.5v2 M806.5 399.5v-2 M806.5 524.5v2 M810.5 385.5v2 M810.5 399.5v-2 M810.5 524.5v2 M815.5 385.5v2 M815.5 399.5v-2 M815.5 524.5v2 M820.5 385.5v3 M820.5 399.5v-3 M820.5 524.5v3 M824.5 385.5v2 M824.5 399.5v-2 M824.5 524.5v2 M828.5 385.5v2 M828.5 399.5v-2 M828.5 524.5v2 M833.5 385.5v2 M833.5 399.5v-2 M833.5 524.5v2 M838.5 385.5v3 M838.5 399.5v-3 M838.5 524.5v3 M842.5 385.5v2 M842.5 399.5v-2 M842.5 524.5v2 M846.5 385.5v2 M846.5 399.5v-2 M846.5 524.5v2 M851.5 385.5v2 M851.5 399.5v-2 M851.5 524.5v2 M856.5 385.5v2 M856.5 399.5v-2 M856.5 524.5v2 M860.5 385.5v3 M860.5 399.5v-3 M860.5 524.5v3 M864.5 385.5v2 M864.5 399.5v-2 M864.5 524.5v2 M869.5 385.5v2 M869.5 399.5v-2 M869.5 524.5v2 M874.5 385.5v2 M874.5 399.5v-2 M874.5 524.5v2 M878.5 385.5v2 M878.5 399.5v-2 M878.5 524.5v2 M882.5 385.5v3 M882.5 399.5v-3 M882.5 524.5v3 M887.5 385.5v2 M887.5 399.5v-2 M887.5 524.5v2 M892.5 385.5v2 M892.5 399.5v-2 M892.5 524.5v2 M896.5 385.5v2 M896.5 399.5v-2 M896.5 524.5v2 M900.5 385.5v2 M900.5 399.5v-2 M900.5 524.5v2" stroke="#c8c8c8" stroke-width="1" fill="none"/>
<text x="21.3" y="396.0" font-size="10" textLength="11.4" lengthAdjust="spacingAndGlyphs">15</text>
<text x="43.3" y="396.0" font-size="10" textLength="11.4" lengthAdjust="spacingAndGlyphs">22</text>
<text x="66.3" y="396.0" font-size="10" textLength="11.4" lengthAdjust="spacingAndGlyphs">29</text>
<text x="77.5" y="396.0" font-size="11" class="b" textLength="20" lengthAdjust="spacingAndGlyphs">Apr</text>
<text x="107.3" y="396.0" font-size="10" textLength="11.4" lengthAdjust="spacingAndGlyphs">12</text>
<text x="128.8" y="396.0" font-size="10" textLength="11.4" lengthAdjust="spacingAndGlyphs">19</text>
<text x="151.3" y="396.0" font-size="10" textLength="11.4" lengthAdjust="spacingAndGlyphs">26</text>
<text x="169.8" y="396.0" font-size="11" class="b" textLength="22.5" lengthAdjust="spacingAndGlyphs">May</text>
<text x="197.3" y="396.0" font-size="10" textLength="11.4" lengthAdjust="spacingAndGlyphs">10</text>
<text x="218.8" y="396.0" font-size="10" textLength="11.4" lengthAdjust="spacingAndGlyphs">17</text>
<text x="241.3" y="396.0" font-size="10" textLength="11.4" lengthAdjust="spacingAndGlyphs">24</text>
<text x="262.0" y="396.0" font-size="11" class="b" textLength="20" lengthAdjust="spacingAndGlyphs">Jun</text>
<text x="285.3" y="396.0" font-size="10" textLength="5.4" lengthAdjust="spacingAndGlyphs">7</text>
<text x="305.3" y="396.0" font-size="10" textLength="11.4" lengthAdjust="spacingAndGlyphs">14</text>
<text x="326.8" y="396.0" font-size="10" textLength="11.4" lengthAdjust="spacingAndGlyphs">21</text>
<text x="349.3" y="396.0" font-size="10" textLength="11.4" lengthAdjust="spacingAndGlyphs">28</text>
<text x="362.5" y="396.0" font-size="11" class="b" textLength="15" lengthAdjust="spacingAndGlyphs">Jul</text>
<text x="390.3" y="396.0" font-size="10" textLength="11.4" lengthAdjust="spacingAndGlyphs">12</text>
<text x="413.3" y="396.0" font-size="10" textLength="11.4" lengthAdjust="spacingAndGlyphs">19</text>
<text x="434.8" y="396.0" font-size="10" textLength="11.4" lengthAdjust="spacingAndGlyphs">26</text>
<text x="453.8" y="396.0" font-size="11" class="b" textLength="22.5" lengthAdjust="spacingAndGlyphs">Aug</text>
<text x="483.3" y="396.0" font-size="10" textLength="5.4" lengthAdjust="spacingAndGlyphs">9</text>
<text x="502.8" y="396.0" font-size="10" textLength="11.4" lengthAdjust="spacingAndGlyphs">16</text>
<text x="524.8" y="396.0" font-size="10" textLength="11.4" lengthAdjust="spacingAndGlyphs">23</text>
<text x="553.5" y="396.0" font-size="11" class="b" textLength="20" lengthAdjust="spacingAndGlyphs">Sep</text>
<text x="573.3" y="396.0" font-size="10" textLength="5.4" lengthAdjust="spacingAndGlyphs">7</text>
<text x="587.8" y="396.0" font-size="10" textLength="11.4" lengthAdjust="spacingAndGlyphs">13</text>
<text x="610.8" y="396.0" font-size="10" textLength="11.4" lengthAdjust="spacingAndGlyphs">20</text>
<text x="632.8" y="396.0" font-size="10" textLength="11.4" lengthAdjust="spacingAndGlyphs">27</text>
<text x="648.5" y="396.0" font-size="11" class="b" textLength="18" lengthAdjust="spacingAndGlyphs">Oct</text>
<text x="678.3" y="396.0" font-size="10" textLength="11.4" lengthAdjust="spacingAndGlyphs">11</text>
<text x="700.8" y="396.0" font-size="10" textLength="11.4" lengthAdjust="spacingAndGlyphs">18</text>
<text x="722.8" y="396.0" font-size="10" textLength="11.4" lengthAdjust="spacingAndGlyphs">25</text>
<text x="741.8" y="396.0" font-size="11" class="b" textLength="21.5" lengthAdjust="spacingAndGlyphs">Nov</text>
<text x="771.3" y="396.0" font-size="10" textLength="5.4" lengthAdjust="spacingAndGlyphs">8</text>
<text x="791.3" y="396.0" font-size="10" textLength="11.4" lengthAdjust="spacingAndGlyphs">15</text>
<text x="812.8" y="396.0" font-size="10" textLength="11.4" lengthAdjust="spacingAndGlyphs">22</text>
<text x="837.0" y="396.0" font-size="11" class="b" textLength="20" lengthAdjust="spacingAndGlyphs">Dec</text>
<text x="857.3" y="396.0" font-size="10" textLength="5.4" lengthAdjust="spacingAndGlyphs">6</text>
<text x="876.3" y="396.0" font-size="10" textLength="11.4" lengthAdjust="spacingAndGlyphs">13</text>
<text x="21.3" y="535.0" font-size="10" textLength="11.4" lengthAdjust="spacingAndGlyphs">15</text>
<text x="43.3" y="535.0" font-size="10" textLength="11.4" lengthAdjust="spacingAndGlyphs">22</text>
<text x="66.3" y="535.0" font-size="10" textLength="11.4" lengthAdjust="spacingAndGlyphs">29</text>
<text x="77.5" y="535.0" font-size="11" class="b" textLength="20" lengthAdjust="spacingAndGlyphs">Apr</text>
<text x="107.3" y="535.0" font-size="10" textLength="11.4" lengthAdjust="spacingAndGlyphs">12</text>
<text x="128.8" y="535.0" font-size="10" textLength="11.4" lengthAdjust="spacingAndGlyphs">19</text>
<text x="151.3" y="535.0" font-size="10" textLength="11.4" lengthAdjust="spacingAndGlyphs">26</text>
<text x="169.8" y="535.0" font-size="11" class="b" textLength="22.5" lengthAdjust="spacingAndGlyphs">May</text>
<text x="197.3" y="535.0" font-size="10" textLength="11.4" lengthAdjust="spacingAndGlyphs">10</text>
<text x="218.8" y="535.0" font-size="10" textLength="11.4" lengthAdjust="spacingAndGlyphs">17</text>
<text x="241.3" y="535.0" font-size="10" textLength="11.4" lengthAdjust="spacingAndGlyphs">24</text>
<text x="262.0" y="535.0" font-size="11" class="b" textLength="20" lengthAdjust="spacingAndGlyphs">Jun</text>
<text x="285.3" y="535.0" font-size="10" textLength="5.4" lengthAdjust="spacingAndGlyphs">7</text>
<text x="305.3" y="535.0" font-size="10" textLength="11.4" lengthAdjust="spacingAndGlyphs">14</text>
<text x="326.8" y="535.0" font-size="10" textLength="11.4" lengthAdjust="spacingAndGlyphs">21</text>
<text x="349.3" y="535.0" font-size="10" textLength="11.4" lengthAdjust="spacingAndGlyphs">28</text>
<text x="362.5" y="535.0" font-size="11" class="b" textLength="15" lengthAdjust="spacingAndGlyphs">Jul</text>
<text x="390.3" y="535.0" font-size="10" textLength="11.4" lengthAdjust="spacingAndGlyphs">12</text>
<text x="413.3" y="535.0" font-size="10" textLength="11.4" lengthAdjust="spacingAndGlyphs">19</text>
<text x="434.8" y="535.0" font-size="10" textLength="11.4" lengthAdjust="spacingAndGlyphs">26</text>
<text x="453.8" y="535.0" font-size="11" class="b" textLength="22.5" lengthAdjust="spacingAndGlyphs">Aug</text>
<text x="483.3" y="535.0" font-size="10" textLength="5.4" lengthAdjust="spacingAndGlyphs">9</text>
<text x="502.8" y="535.0" font-size="10" textLength="11.4" lengthAdjust="spacingAndGlyphs">16</text>
<text x="524.8" y="535.0" font-size="10" textLength="11.4" lengthAdjust="spacingAndGlyphs">23</text>
<text x="553.5" y="535.0" font-size="11" class="b" textLength="20" lengthAdjust="spacingAndGlyphs">Sep</text>
<text x="573.3" y="535.0" font-size="10" textLength="5.4" lengthAdjust="spacingAndGlyphs">7</text>
<text x="587.8" y="535.0" font-size="10" textLength="11.4" lengthAdjust="spacingAndGlyphs">13</text>
<text x="610.8" y="535.0" font-size="10" textLength="11.4" lengthAdjust="spacingAndGlyphs">20</text>
<text x="632.8" y="535.0" font-size="10" textLength="11.4" lengthAdjust="spacingAndGlyphs">27</text>
<text x="648.5" y="535.0" font-size="11" class="b" textLength="18" lengthAdjust="spacingAndGlyphs">Oct</text>
<text x="678.3" y="535.0" font-size="10" textLength="11.4" lengthAdjust="spacingAndGlyphs">11</text>
<text x="700.8" y="535.0" font-size="10" textLength="11.4" lengthAdjust="spacingAndGlyphs">18</text>
<text x="722.8" y="535.0" font-size="10" textLength="11.4" lengthAdjust="spacingAndGlyphs">25</text>
<text x="741.8" y="535.0" font-size="11" class="b" textLength="21.5" lengthAdjust="spacingAndGlyphs">Nov</text>
<text x="771.3" y="535.0" font-size="10" textLength="5.4" lengthAdjust="spacingAndGlyphs">8</text>
<text x="791.3" y="535.0" font-size="10" textLength="11.4" lengthAdjust="spacingAndGlyphs">15</text>
<text x="812.8" y="535.0" font-size="10" textLength="11.4" lengthAdjust="spacingAndGlyphs">22</text>
<text x="837.0" y="535.0" font-size="11" class="b" textLength="20" lengthAdjust="spacingAndGlyphs">Dec</text>
<text x="857.3" y="535.0" font-size="10" textLength="5.4" lengthAdjust="spacingAndGlyphs">6</text>
<text x="876.3" y="535.0" font-size="10" textLength="11.4" lengthAdjust="spacingAndGlyphs">13</text>
<text x="16.2" y="13.4" font-size="14.5" class="b" textLength="62.3" lengthAdjust="spacingAndGlyphs">!GT20SML</text>
<text x="83.6" y="13" font-size="11.5" textLength="181.5" lengthAdjust="spacingAndGlyphs">S&amp;P Small Cap Stocks Above 20-EMA</text>
<text x="270.7" y="13" font-size="9.5" textLength="24" lengthAdjust="spacingAndGlyphs">INDX</text>
<text x="16" y="25.8" font-size="9.7" textLength="60.3" lengthAdjust="spacing" style="stroke-width:0">10-Dec-2021</text>
<text x="817.8" y="12.8" font-size="10" textLength="89.4" lengthAdjust="spacingAndGlyphs" style="fill:#5a5a5a;stroke:#5a5a5a;stroke-width:.15px">© StockCharts.com</text>
<text x="546.5" y="25.8" font-size="10" class="b" textLength="28" lengthAdjust="spacingAndGlyphs">Open</text>
<text x="578.5" y="25.8" font-size="10" textLength="25.5" lengthAdjust="spacingAndGlyphs">38.67</text>
<text x="611" y="25.8" font-size="10" class="b" textLength="24.5" lengthAdjust="spacingAndGlyphs">High</text>
<text x="639" y="25.8" font-size="10" textLength="26" lengthAdjust="spacingAndGlyphs">38.67</text>
<text x="671.5" y="25.8" font-size="10" class="b" textLength="23.5" lengthAdjust="spacingAndGlyphs">Low</text>
<text x="698.5" y="25.8" font-size="10" textLength="26.5" lengthAdjust="spacingAndGlyphs">38.67</text>
<text x="731.5" y="25.8" font-size="10" class="b" textLength="31.5" lengthAdjust="spacingAndGlyphs">Close</text>
<text x="766" y="25.8" font-size="10" textLength="27.5" lengthAdjust="spacingAndGlyphs">38.67</text>
<text x="800.5" y="25.8" font-size="10" class="b" textLength="21" lengthAdjust="spacingAndGlyphs">Chg</text>
<text x="824.5" y="25.8" font-size="10" textLength="73" lengthAdjust="spacingAndGlyphs">+1.33 (+3.57%)</text>
<polygon points="899.7,25.2 907,25.2 903.3,21" fill="#2d6a2d"/>
<rect x="18" y="30" width="148" height="12" fill="#fff"/>
<rect x="19" y="33.7" width="9.2" height="2" fill="#000"/>
<text class="v" x="32.7" y="39" font-size="9.3" textLength="129.3" lengthAdjust="spacingAndGlyphs">!GT20SML (Daily) 38.67</text>
<rect x="18" y="401" width="148" height="22" fill="#fff"/>
<rect x="19" y="404.8" width="9.2" height="2" fill="#000"/>
<text class="v" x="32.7" y="410" font-size="9.3" textLength="128.8" lengthAdjust="spacingAndGlyphs">!GT20SML:$SPX 0.0082</text>
<rect x="19" y="415.8" width="9.2" height="1.8" fill="#000080"/>
<text x="29.8" y="421" font-size="10" textLength="68.9" lengthAdjust="spacingAndGlyphs" style="fill:#000080;stroke:#000080;stroke-width:0.25">MA(252) 0.0138</text>
</svg>
</body></html>
